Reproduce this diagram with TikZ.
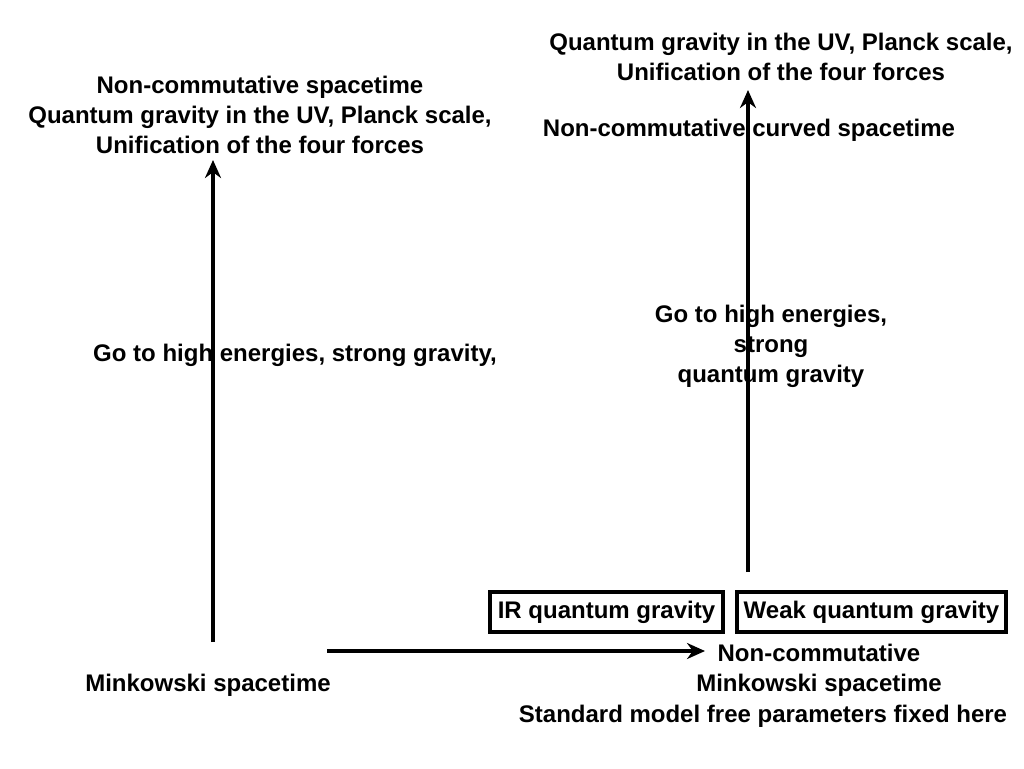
\documentclass[tikz,border=0pt]{standalone}
\usepackage{fontspec}
\setmainfont{Liberation Sans}
\usetikzlibrary{arrows.meta}
\begin{document}
\begin{tikzpicture}[x=0.5pt,y=-0.5pt,
  lbl/.style={font=\bfseries\fontsize{12}{15}\selectfont, align=center, inner sep=0pt},
  boxed/.style={lbl, draw, line width=1.8pt, minimum height=20pt, inner sep=0pt},
  arr/.style={line width=1.8pt, -{Stealth[length=9pt,width=8pt]}}]
\useasboundingbox (0,0) rectangle (1024,768);
% left column
\node[lbl] (lefttop) at (260,115) {Non-commutative spacetime\\Quantum gravity in the UV, Planck scale,\\Unification of the four forces};
\node[lbl] (leftmid) at (295,355) {Go to high energies, strong gravity,};
\node[lbl] (mink) at (208,685) {Minkowski spacetime};
% right column
\node[lbl] (righttop) at (781,57) {Quantum gravity in the UV, Planck scale,\\Unification of the four forces};
\node[lbl] (curved) at (749,130) {Non-commutative curved spacetime};
\node[lbl] (rightmid) at (771,346) {Go to high energies,\\strong\\quantum gravity};
\node[boxed, minimum width=116.5pt] (ir) at (606.5,612) {IR quantum gravity};
\node[boxed, minimum width=134.5pt] (weak) at (871.5,612) {Weak quantum gravity};
\node[lbl] (ncmink) at (819,670) {Non-commutative\\Minkowski spacetime};
\node[lbl] (sm) at (763,716) {Standard model free parameters fixed here};
% arrows
\coordinate (a1s) at (213,642);
\coordinate (a1e) at (213,160);
\coordinate (a2s) at (327,651);
\coordinate (a2e) at (705,651);
\coordinate (a3s) at (748,572);
\coordinate (a3e) at (748,90);
\draw[arr] (a1s) -- (a1e);
\draw[arr] (a2s) -- (a2e);
\draw[arr] (a3s) -- (a3e);
\end{tikzpicture}
\end{document}
